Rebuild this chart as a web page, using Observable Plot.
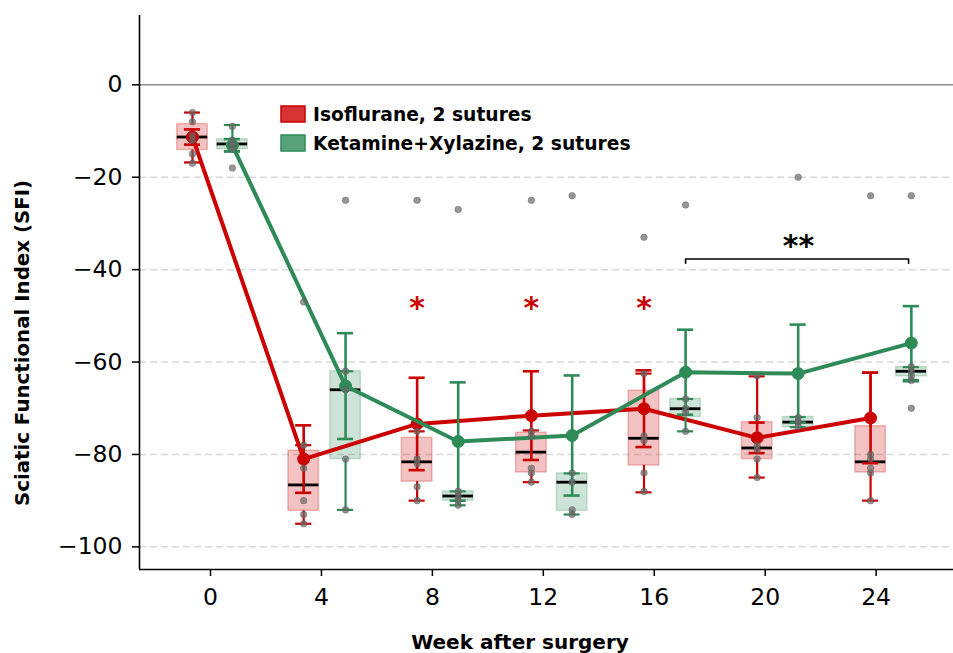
<!DOCTYPE html>
<html>
<head>
<meta charset="utf-8">
<script src="https://cdn.jsdelivr.net/npm/d3@7"></script>
<script src="https://cdn.jsdelivr.net/npm/@observablehq/plot@0.6"></script>
<style>
  body { margin: 0; background: #fff; }
  #chart { width: 953px; height: 653px; overflow: hidden; }
  #chart svg [aria-label*="axis"] path, #chart svg [aria-label*="axis"] line { stroke-width: 1.5px; }
</style>
</head>
<body>
<div id="chart"></div>
<script>
// ---------- data ----------
const weeks = [0, 4, 8, 12, 16, 20, 24];
const xTicks = [0, 4, 8, 12, 16, 20, 24];
const yTicks = [0, -20, -40, -60, -80, -100];
const gridLevels = [-20, -40, -60, -80, -100];

const isoName = "Isoflurane, 2 sutures";
const ketName = "Ketamine+Xylazine, 2 sutures";

// plotted x positions (dodged around each week)
const isoX = [-0.65, 3.36, 7.45, 11.57, 15.63, 19.71, 23.8];
const ketX = [0.79, 4.87, 8.93, 13.04, 17.13, 21.19, 25.27];

// Isoflurane
const isoMean = [-11.3, -81.0, -73.4, -71.6, -70.1, -76.4, -72.1];
const isoSem  = [1.65, 7.3, 10.0, 9.6, 8.3, 3.3, 9.8];
const isoQ1   = [-14.1, -92.2, -85.9, -83.9, -82.4, -81.0, -83.9];
const isoMed  = [-11.3, -86.6, -81.6, -79.5, -76.5, -78.6, -81.6];
const isoQ3   = [-8.5, -79.2, -76.4, -75.3, -66.2, -73.0, -73.9];
const isoLo   = [-16.8, -95.0, -90.0, -86.0, -88.2, -85.0, -90.0];
const isoHi   = [-6.0, -78.0, -75.0, -74.8, -62.5, -63.1, -62.3];
const isoPoints = [
  [-6, -8, -11, -12, -15, -17],
  [-47, -78, -83, -90, -93, -95],
  [-25, -75, -81, -82, -87, -90],
  [-25, -75, -76, -83, -84, -86],
  [-33, -62.5, -76, -77, -84, -88],
  [-63, -72, -78, -79, -81, -85],
  [-24, -80, -81, -83, -84, -90]
];

// Ketamine+Xylazine
const ketMean = [-13.1, -65.2, -77.2, -75.9, -62.2, -62.5, -55.9];
const ketSem  = [1.35, 11.45, 12.8, 13.0, 9.2, 10.6, 8.0];
const ketQ1   = [-13.9, -81.0, -90.0, -92.2, -71.9, -74.1, -63.1];
const ketMed  = [-12.8, -66.0, -89.0, -86.0, -70.1, -73.0, -62.0];
const ketQ3   = [-11.8, -62.0, -88.0, -84.1, -68.0, -71.9, -61.1];
const ketLo   = [-14.3, -92.0, -91.0, -93.0, -75.0, -74.1, -64.2];
const ketHi   = [-8.7, -62.0, -88.0, -84.1, -68.0, -71.9, -61.1];
const ketPoints = [
  [-9, -12, -13, -13, -14, -18],
  [-25, -62, -66, -81, -92],
  [-27, -88, -89, -90, -91],
  [-24, -84, -86, -92, -93],
  [-26, -68, -70, -71, -75],
  [-20, -72, -73, -73, -74],
  [-24, -61, -62, -63, -64, -70]
];

// significance annotations
const starIdx = [2, 3, 4];          // isoflurane groups marked "*"
const starLevel = -48.3;
const bracketFrom = 4, bracketTo = 6; // ketamine groups spanned by "**"
const bracketLevel = -37.7;
const bracketTick = 0.9;
const doubleStarLevel = -35.0;

// ---------- styling ----------
const isoColor = "#cc0000";
const ketColor = "#2e8b57";
const boxHalf = 0.55;
const capHalf = 0.29;
const xDomain = [-2.56, 26.79];
const yDomain = [-104.9, 15.0];

function rows(xs, mean, sem, q1, med, q3, lo, hi) {
  return weeks.map((w, i) => ({week: w, x: xs[i], mean: mean[i], sem: sem[i], q1: q1[i], med: med[i], q3: q3[i], lo: lo[i], hi: hi[i]}));
}
const isoRows = rows(isoX, isoMean, isoSem, isoQ1, isoMed, isoQ3, isoLo, isoHi);
const ketRows = rows(ketX, ketMean, ketSem, ketQ1, ketMed, ketQ3, ketLo, ketHi);
const pointRows = [];
isoPoints.forEach((arr, i) => arr.forEach(v => pointRows.push({x: isoX[i], y: v})));
ketPoints.forEach((arr, i) => arr.forEach(v => pointRows.push({x: ketX[i], y: v})));

const marks = [
  Plot.ruleY(gridLevels, {stroke: "#d9d9d9", strokeWidth: 1.5, strokeDasharray: "7,4"}),
  Plot.ruleY([0], {stroke: "#8c8c8c", strokeWidth: 1.5})
];
for (const [data, color] of [[isoRows, isoColor], [ketRows, ketColor]]) {
  marks.push(Plot.rect(data, {x1: d => d.x - boxHalf, x2: d => d.x + boxHalf, y1: "q1", y2: "q3",
    fill: color, fillOpacity: 0.24, stroke: color, strokeOpacity: 0.25, strokeWidth: 1.5}));
}
for (const [data, color] of [[isoRows, isoColor], [ketRows, ketColor]]) {
  marks.push(
    Plot.ruleX(data, {x: "x", y1: "q3", y2: "hi", stroke: color, strokeWidth: 2.2}),
    Plot.ruleX(data, {x: "x", y1: "q1", y2: "lo", stroke: color, strokeWidth: 2.2}),
    Plot.ruleY(data, {y: "hi", x1: d => d.x - capHalf, x2: d => d.x + capHalf, stroke: color, strokeWidth: 2.2}),
    Plot.ruleY(data, {y: "lo", x1: d => d.x - capHalf, x2: d => d.x + capHalf, stroke: color, strokeWidth: 2.2}),
    Plot.ruleY(data, {y: "med", x1: d => d.x - boxHalf, x2: d => d.x + boxHalf, stroke: "black", strokeWidth: 2.8}),
    Plot.ruleX(data, {x: "x", y1: d => d.mean - d.sem, y2: d => d.mean + d.sem, stroke: color, strokeWidth: 2.6}),
    Plot.ruleY(data, {y: d => d.mean + d.sem, x1: d => d.x - capHalf, x2: d => d.x + capHalf, stroke: color, strokeWidth: 2.6}),
    Plot.ruleY(data, {y: d => d.mean - d.sem, x1: d => d.x - capHalf, x2: d => d.x + capHalf, stroke: color, strokeWidth: 2.6}),
    Plot.line(data, {x: "x", y: "mean", stroke: color, strokeWidth: 4}),
    Plot.dot(data, {x: "x", y: "mean", r: 6, fill: color, stroke: color, strokeWidth: 1})
  );
}
marks.push(
  Plot.dot(pointRows, {x: "x", y: "y", r: 3.3, fill: "#6a6a6a", fillOpacity: 0.7, stroke: "#555", strokeOpacity: 0.5, strokeWidth: 0.8}),
  Plot.text(starIdx.map(i => ({x: isoX[i], y: starLevel})), {x: "x", y: "y", text: () => "*", fill: isoColor,
    fontSize: 30, fontWeight: "bold", fontFamily: "DejaVu Sans"}),
  Plot.line([{x: ketX[bracketFrom], y: bracketLevel - bracketTick}, {x: ketX[bracketFrom], y: bracketLevel},
             {x: ketX[bracketTo] - 0.1, y: bracketLevel}, {x: ketX[bracketTo] - 0.1, y: bracketLevel - bracketTick}],
            {x: "x", y: "y", stroke: "black", strokeWidth: 1.6}),
  Plot.text([{x: (ketX[bracketFrom] + ketX[bracketTo]) / 2, y: doubleStarLevel}], {x: "x", y: "y", text: () => "**",
    fill: "black", fontSize: 30, fontWeight: "bold", fontFamily: "DejaVu Sans"}),
  Plot.ruleX([xDomain[0]], {stroke: "black", strokeWidth: 1.6}),
  Plot.ruleY([yDomain[0]], {stroke: "black", strokeWidth: 1.6})
);

const svg = Plot.plot({
  width: 953,
  height: 653,
  marginLeft: 139,
  marginRight: 0,
  marginTop: 15,
  marginBottom: 84,
  style: {fontFamily: "DejaVu Sans", fontSize: "23.5px", color: "black", background: "white"},
  x: {domain: xDomain, ticks: xTicks, tickSize: 7, tickPadding: 12, label: null, tickFormat: d => String(d)},
  y: {domain: yDomain, ticks: yTicks, tickSize: 7, tickPadding: 10, label: null,
      tickFormat: d => d < 0 ? "\u2212" + Math.abs(d) : String(d)},
  marks
});

// titles and legend
const s = d3.select(svg);
const boldFont = "DejaVu Sans";
s.append("text").attr("x", 520).attr("y", 649).attr("text-anchor", "middle")
  .attr("font-family", boldFont).attr("font-weight", "bold").attr("font-size", 20)
  .text("Week after surgery");
s.append("text").attr("transform", "translate(29,343) rotate(-90)").attr("text-anchor", "middle")
  .attr("font-family", boldFont).attr("font-weight", "bold").attr("font-size", 19.8)
  .text("Sciatic Functional Index (SFI)");
const legendItems = [[isoName, isoColor, 106], [ketName, ketColor, 135]];
for (const [name, color, y] of legendItems) {
  s.append("rect").attr("x", 281).attr("y", y).attr("width", 24).attr("height", 16)
    .attr("fill", color).attr("fill-opacity", 0.8).attr("stroke", color).attr("stroke-width", 1.5);
  s.append("text").attr("x", 313).attr("y", y + 15).attr("text-anchor", "start").attr("font-family", boldFont)
    .attr("font-weight", "bold").attr("font-size", 18.7).text(name);
}
document.getElementById("chart").appendChild(svg);
</script>
</body>
</html>
